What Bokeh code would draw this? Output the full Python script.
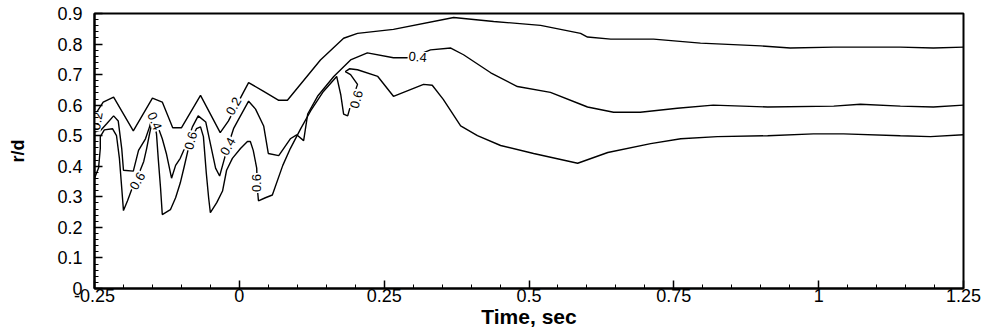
from bokeh.plotting import figure
from bokeh.models import FixedTicker, Range1d
from bokeh.core.properties import value
from bokeh.embed import file_html
from bokeh.resources import INLINE

# ---- data ----
c02_t = [-0.25, -0.247, -0.235, -0.217, -0.183, -0.150, -0.133, -0.115, -0.100, -0.067, -0.033, -0.019, 0.007,
         0.016, 0.042, 0.068, 0.083, 0.140, 0.180, 0.204, 0.266, 0.370, 0.439, 0.520, 0.589, 0.601, 0.641,
         0.715, 0.796, 0.900, 0.951, 1.026, 1.141, 1.198, 1.25]
c02_r = [0.570, 0.575, 0.610, 0.626, 0.516, 0.623, 0.610, 0.526, 0.526, 0.632, 0.510, 0.548, 0.642,
         0.674, 0.645, 0.616, 0.616, 0.748, 0.819, 0.835, 0.848, 0.887, 0.874, 0.861, 0.835, 0.823, 0.816,
         0.816, 0.803, 0.794, 0.787, 0.790, 0.790, 0.787, 0.790]

c04_t = [-0.25, -0.240, -0.229, -0.217, -0.209, -0.203, -0.200, -0.183, -0.174, -0.162, -0.155, -0.150,
         -0.141, -0.133, -0.126, -0.117, -0.110, -0.102, -0.091, -0.081, -0.071, -0.058, -0.041, -0.034,
         -0.027, -0.020, -0.010, -0.003, 0.016, 0.028, 0.042, 0.050, 0.068, 0.088, 0.099, 0.111, 0.118,
         0.135, 0.163, 0.192, 0.221, 0.266, 0.295, 0.330, 0.365, 0.387, 0.434, 0.480, 0.537, 0.589,
         0.601, 0.646, 0.692, 0.756, 0.818, 0.912, 1.026, 1.072, 1.141, 1.198, 1.25]
c04_r = [0.513, 0.516, 0.539, 0.565, 0.548, 0.458, 0.387, 0.384, 0.452, 0.490, 0.529, 0.565,
         0.532, 0.490, 0.442, 0.361, 0.403, 0.426, 0.474, 0.529, 0.565, 0.545, 0.394, 0.368,
         0.416, 0.464, 0.523, 0.548, 0.613, 0.587, 0.532, 0.442, 0.435, 0.490, 0.503, 0.484, 0.571,
         0.629, 0.694, 0.748, 0.771, 0.755, 0.755, 0.781, 0.787, 0.765, 0.706, 0.661, 0.642, 0.603,
         0.594, 0.577, 0.577, 0.590, 0.600, 0.594, 0.597, 0.603, 0.597, 0.594, 0.600]

c06_t = [-0.25, -0.243, -0.240, -0.240, -0.233, -0.219, -0.212, -0.207, -0.203, -0.200, -0.193, -0.186,
         -0.181, -0.171, -0.165, -0.160, -0.155, -0.152, -0.146, -0.143, -0.140, -0.136, -0.133, -0.119,
         -0.110, -0.102, -0.095, -0.088, -0.081, -0.074, -0.067, -0.062, -0.057, -0.053, -0.050, -0.039,
         -0.029, -0.022, -0.012, 0.002, 0.014, 0.019, 0.024, 0.030, 0.031, 0.033, 0.045, 0.057, 0.075,
         0.088, 0.106, 0.123, 0.144, 0.168, 0.175, 0.180, 0.187, 0.195, 0.204, 0.192, 0.183, 0.190,
         0.204, 0.239, 0.266, 0.318, 0.333, 0.352, 0.382, 0.411, 0.451, 0.508, 0.584, 0.636, 0.710,
         0.762, 0.825, 0.912, 0.991, 1.043, 1.141, 1.193, 1.25]
c06_r = [0.361, 0.394, 0.458, 0.497, 0.519, 0.523, 0.500, 0.426, 0.329, 0.255, 0.287, 0.323,
         0.345, 0.387, 0.416, 0.458, 0.506, 0.532, 0.532, 0.506, 0.426, 0.329, 0.242, 0.258,
         0.297, 0.345, 0.400, 0.458, 0.497, 0.523, 0.529, 0.497, 0.377, 0.297, 0.248, 0.281,
         0.319, 0.387, 0.426, 0.458, 0.481, 0.481, 0.452, 0.394, 0.329, 0.287, 0.297, 0.306, 0.403,
         0.458, 0.523, 0.581, 0.642, 0.694, 0.635, 0.571, 0.565, 0.619, 0.668, 0.700, 0.710, 0.719,
         0.716, 0.694, 0.629, 0.668, 0.665, 0.619, 0.532, 0.500, 0.468, 0.442, 0.410, 0.445, 0.474,
         0.490, 0.497, 0.500, 0.506, 0.506, 0.500, 0.497, 0.503]

lab_text = ["0.2", "0.4", "0.6", "0.6", "0.2", "0.4", "0.6", "0.6", "0.4"]
lab_t = [-0.246, -0.146, -0.084, -0.176, -0.010, -0.020, 0.030, 0.202, 0.308]
lab_r = [0.548, 0.548, 0.484, 0.352, 0.597, 0.465, 0.345, 0.619, 0.758]
lab_angle = [80, -67, 75, 60, 60, 60, 90, 75, -5]

x_major = [-0.25, 0, 0.25, 0.5, 0.75, 1, 1.25]
x_labels = ["-0.25", "0", "0.25", "0.5", "0.75", "1", "1.25"]
y_major = [0, 0.1, 0.2, 0.3, 0.4, 0.5, 0.6, 0.7, 0.8, 0.9]
y_labels = ["0", "0.1", "0.2", "0.3", "0.4", "0.5", "0.6", "0.7", "0.8", "0.9"]

x_minor = [round(-0.25 + 0.05 * i, 2) for i in range(31)]
y_minor = [round(0.02 * i, 2) for i in range(46)]

FONT = "Liberation Sans"

p = figure(width=985, height=330, output_backend="svg", toolbar_location=None,
           x_range=Range1d(-0.25, 1.25), y_range=Range1d(0, 0.9),
           min_border_left=94, min_border_right=22, min_border_top=13, min_border_bottom=38)
p.grid.visible = False
p.outline_line_color = "black"
p.outline_line_width = 2
p.background_fill_color = "white"
p.border_fill_color = "white"

for t, r in ((c02_t, c02_r), (c04_t, c04_r), (c06_t, c06_r)):
    p.line(t, r, line_color="black", line_width=1.4)

p.text(x=lab_t, y=lab_r, text=lab_text, angle=lab_angle, angle_units="deg",
       text_font=value(FONT), text_font_size="13px", text_color="black",
       text_align="center", text_baseline="middle",
       background_fill_color="white", padding=1)

p.xaxis.ticker = FixedTicker(ticks=x_major, minor_ticks=x_minor)
p.yaxis.ticker = FixedTicker(ticks=y_major, minor_ticks=y_minor)
p.xaxis.major_label_overrides = {v: s for v, s in zip(x_major, x_labels)}
p.yaxis.major_label_overrides = {v: s for v, s in zip(y_major, y_labels)}

for ax in (p.xaxis[0], p.yaxis[0]):
    ax.axis_line_width = 2
    ax.axis_line_color = "black"
    ax.major_tick_in = 8
    ax.major_tick_out = 0
    ax.minor_tick_in = 4
    ax.minor_tick_out = 0
    ax.major_tick_line_width = 1.5
    ax.minor_tick_line_width = 1
    ax.major_label_text_font = FONT
    ax.major_label_text_font_size = "18px"
    ax.major_label_text_color = "black"
    ax.axis_label_text_font = FONT
    ax.axis_label_text_font_style = "bold"
    ax.axis_label_text_color = "black"

p.xaxis.axis_label = "Time, sec"
p.xaxis.axis_label_text_font_size = "21px"
p.xaxis.major_label_standoff = 0
p.xaxis.axis_label_standoff = 0
p.yaxis.axis_label = "r/d"
p.yaxis.axis_label_text_font_size = "18px"
p.yaxis.major_label_standoff = 12
p.yaxis.axis_label_standoff = 26

open("out.html", "w").write(file_html(p, INLINE))
